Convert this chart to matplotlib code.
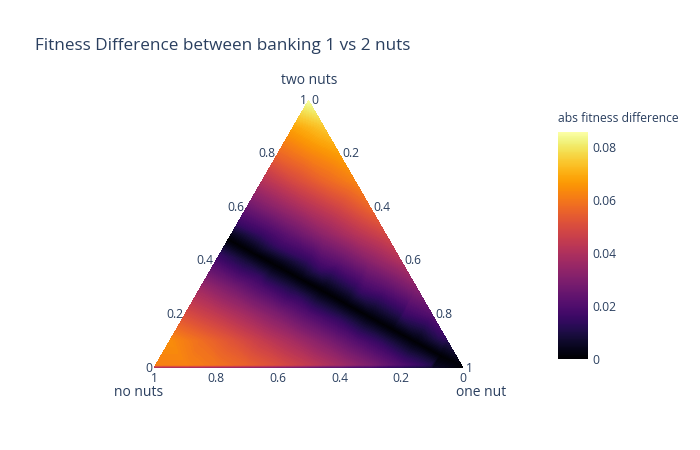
import numpy as np
import matplotlib.pyplot as plt
import matplotlib.tri as mtri
from matplotlib.colors import Normalize
from matplotlib.cm import ScalarMappable

plt.rcParams['font.family'] = ['Open Sans', 'DejaVu Sans']

# abs fitness difference, one row per "two nuts" level,
# read from left edge (one nut = 0) to right edge (no nuts = 0)
two_nuts_levels = [0.0, 0.012, 0.1, 0.2, 0.3, 0.4, 0.5, 0.6, 0.7, 0.8, 0.9, 1.0]
row_000 = [0.033, 0.031, 0.029, 0.027, 0.024, 0.021, 0.018, 0.015, 0.011, 0.006, 0.0]
row_012 = [0.062, 0.062, 0.059, 0.055, 0.050, 0.044, 0.037, 0.029, 0.020, 0.011, 0.001]
row_010 = [0.064, 0.058, 0.052, 0.045, 0.038, 0.030, 0.021, 0.011, 0.001, 0.011]
row_020 = [0.050, 0.044, 0.037, 0.029, 0.020, 0.010, 0.002, 0.012, 0.021]
row_030 = [0.036, 0.028, 0.019, 0.009, 0.002, 0.013, 0.022, 0.031]
row_040 = [0.018, 0.008, 0.003, 0.014, 0.023, 0.032, 0.040]
row_050 = [0.004, 0.015, 0.024, 0.033, 0.041, 0.048]
row_060 = [0.025, 0.033, 0.041, 0.048, 0.056]
row_070 = [0.041, 0.049, 0.056, 0.062]
row_080 = [0.056, 0.062, 0.067]
row_090 = [0.068, 0.074]
row_100 = [0.085]
abs_diff_rows = [row_000, row_012, row_010, row_020, row_030, row_040,
                 row_050, row_060, row_070, row_080, row_090, row_100]

# points along the dark (zero difference) band
band_two_nuts = [0.048, 0.096, 0.144, 0.192, 0.24, 0.288, 0.336, 0.384, 0.432, 0.48]
band_no_nuts = [0.052, 0.104, 0.156, 0.208, 0.26, 0.312, 0.364, 0.416, 0.468, 0.52]
band_abs_diff = [0.0, 0.0, 0.0, 0.0, 0.0, 0.0, 0.0, 0.0, 0.0, 0.0]

# purple edges of the band, upper side and lower side
upper_edge_two_nuts = [0.115, 0.2, 0.285, 0.37, 0.455, 0.54]
upper_edge_no_nuts = [0.0, 0.092, 0.184, 0.276, 0.368, 0.46]
upper_edge_abs_diff = [0.015, 0.015, 0.015, 0.015, 0.015, 0.015]
lower_edge_two_nuts = [0.012, 0.0936, 0.1752, 0.2568, 0.3384, 0.42]
lower_edge_no_nuts = [0.138, 0.2264, 0.3148, 0.4032, 0.4916, 0.58]
lower_edge_abs_diff = [0.015, 0.015, 0.015, 0.015, 0.015, 0.015]

axis_ticks = [0, 0.2, 0.4, 0.6, 0.8, 1]
cbar_ticks = [0, 0.02, 0.04, 0.06, 0.08]
cmax = 0.0856

txt = '#2a3f5f'
H = np.sqrt(3) / 2

# build ternary points
two, none, vals = [], [], []
for t, row in zip(two_nuts_levels, abs_diff_rows):
    k = len(row)
    for j, v in enumerate(row):
        o = (1 - t) * j / (k - 1) if k > 1 else 0.0
        two.append(t)
        none.append(1 - t - o)
        vals.append(v)
two += band_two_nuts + upper_edge_two_nuts + lower_edge_two_nuts
none += band_no_nuts + upper_edge_no_nuts + lower_edge_no_nuts
vals += band_abs_diff + upper_edge_abs_diff + lower_edge_abs_diff

two = np.array(two)
none = np.array(none)
one = 1 - two - none
x = one + two / 2
y = two * H

fig = plt.figure(figsize=(7, 4.5), dpi=100)
ax = fig.add_axes([154 / 700, (450 - 368) / 450, 309 / 700, 267.6 / 450])
ax.set_xlim(0, 1)
ax.set_ylim(0, H)
ax.axis('off')

triang = mtri.Triangulation(x, y)
ax.tricontourf(triang, vals, levels=np.linspace(0, cmax, 160), cmap='inferno')

fs = 8.7
# two nuts axis (left edge)
for v in axis_ticks:
    ax.annotate(f'{v:g}', (v / 2, v * H), xytext=(-2, 0), textcoords='offset pixels',
                ha='right', va='center', fontsize=fs, color=txt, annotation_clip=False)
# one nut axis (right edge)
for v in axis_ticks:
    ax.annotate(f'{v:g}', (v + (1 - v) / 2, (1 - v) * H), xytext=(3, 0), textcoords='offset pixels',
                ha='left', va='center', fontsize=fs, color=txt, annotation_clip=False)
# no nuts axis (bottom edge)
for v in axis_ticks:
    ax.annotate(f'{v:g}', (1 - v, 0), xytext=(0, -11), textcoords='offset pixels',
                ha='center', va='center', fontsize=fs, color=txt, annotation_clip=False)

fig.text(309 / 700, 1 - 81 / 450, 'two nuts', ha='center', va='center', fontsize=10, color=txt)
fig.text(139 / 700, 1 - 393 / 450, 'no nuts', ha='center', va='center', fontsize=10, color=txt)
fig.text(481 / 700, 1 - 393 / 450, 'one nut', ha='center', va='center', fontsize=10, color=txt)

fig.text(35 / 700, 1 - 46 / 450, 'Fitness Difference between banking 1 vs 2 nuts',
         ha='left', va='center', fontsize=12.3, color=txt)

# colorbar
cax = fig.add_axes([558 / 700, (450 - 359) / 450, 30 / 700, 227 / 450])
sm = ScalarMappable(norm=Normalize(0, cmax), cmap='inferno')
cb = fig.colorbar(sm, cax=cax, ticks=cbar_ticks)
cb.outline.set_visible(False)
cb.ax.set_yticklabels([f'{v:g}' for v in cbar_ticks])
cb.ax.tick_params(length=0, pad=3, labelsize=fs, labelcolor=txt)
fig.text(558 / 700, 1 - 118 / 450, 'abs fitness difference', ha='left', va='center',
         fontsize=fs, color=txt)

fig.savefig('out.png', dpi=100)
